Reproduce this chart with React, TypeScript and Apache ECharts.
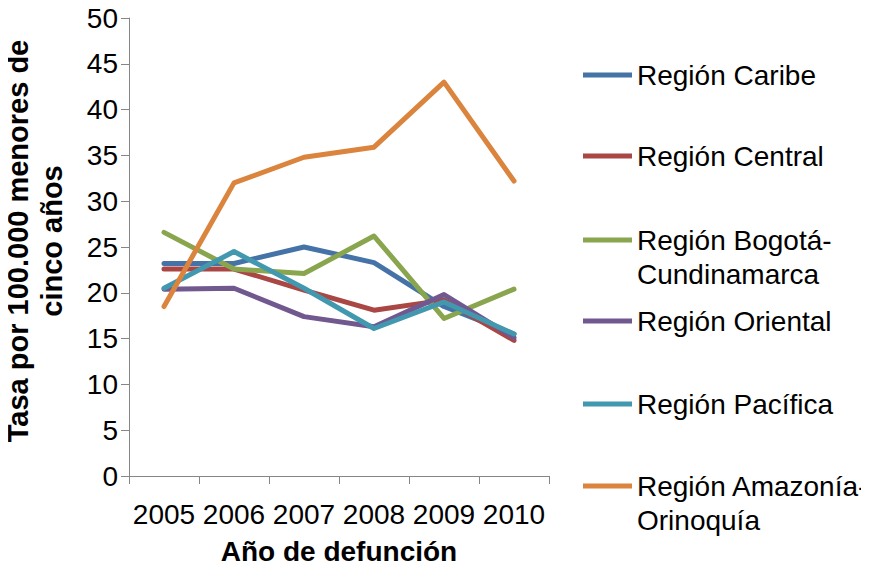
import React, { useEffect, useRef } from "react";
import * as echarts from "echarts";

const years = ["2005", "2006", "2007", "2008", "2009", "2010"];
const caribe = [23.2, 23.2, 25.0, 23.3, 18.5, 15.5];
const central = [22.6, 22.6, 20.3, 18.1, 19.2, 14.8];
const bogota = [26.6, 22.6, 22.1, 26.2, 17.2, 20.4];
const oriental = [20.4, 20.5, 17.4, 16.3, 19.8, 15.1];
const pacifica = [20.5, 24.5, 20.5, 16.1, 19.0, 15.5];
const amazonia = [18.5, 32.0, 34.8, 35.9, 43.0, 32.2];

const seriesNames = [
  "Región Caribe",
  "Región Central",
  "Región Bogotá-\nCundinamarca",
  "Región Oriental",
  "Región Pacífica",
  "Región Amazonía-\nOrinoquía",
];
const seriesData = [caribe, central, bogota, oriental, pacifica, amazonia];
const colors = ["#4572A7", "#AA4643", "#89A54E", "#71588F", "#4198AF", "#DB843D"];
const legendCenters = [75, 156, 240, 321, 404, 486];

const FONT = "'Liberation Sans', Arial, sans-serif";
const AXIS_COLOR = "#868686";

export default function App() {
  const ref = useRef<HTMLDivElement>(null);
  useEffect(() => {
    if (!ref.current) return;
    const chart = echarts.init(ref.current, undefined, { renderer: "svg" });
    const LH = 34;
    const legends = seriesNames.map((name, i) => {
      const multi = name.includes("\n");
      const top = multi ? legendCenters[i] - (LH * 3) / 2 : legendCenters[i] - LH / 2;
      return {
        show: true,
        orient: "vertical",
        left: 583,
        top,
        padding: 0,
        itemWidth: 49,
        itemHeight: 5,
        icon: "rect",
        selectedMode: false,
        formatter: (n: string) => (n.includes("\n") ? " \n" + n : n),
        textStyle: {
          fontFamily: FONT,
          fontSize: 28,
          color: "#000",
          lineHeight: LH,
        },
        data: [name],
      };
    });
    chart.setOption({
      animation: false,
      color: colors,
      grid: { left: 129, right: 320, top: 18, bottom: 93, containLabel: false },
      legend: legends,
      xAxis: {
        type: "category",
        data: years,
        boundaryGap: true,
        name: "Año de defunción",
        nameLocation: "middle",
        nameGap: 61,
        nameTextStyle: { fontFamily: FONT, fontSize: 28, fontWeight: "bold", color: "#000" },
        axisLine: { show: true, lineStyle: { color: AXIS_COLOR, width: 1 } },
        axisTick: { show: true, alignWithLabel: false, length: 8, lineStyle: { color: AXIS_COLOR } },
        axisLabel: { fontFamily: FONT, fontSize: 28, color: "#000", margin: 24, interval: 0 },
        splitLine: { show: false },
      },
      yAxis: {
        type: "value",
        min: 0,
        max: 50,
        interval: 5,
        name: "Tasa por 100.000 menores de\ncinco años",
        nameLocation: "middle",
        nameGap: 60,
        nameRotate: 90,
        nameTextStyle: {
          fontFamily: FONT,
          fontSize: 29,
          fontWeight: "bold",
          color: "#000",
          lineHeight: 34,
          padding: [0, 0, 0, 12],
        },
        axisLine: { show: true, lineStyle: { color: AXIS_COLOR, width: 1 } },
        axisTick: { show: true, inside: false, length: 8, lineStyle: { color: AXIS_COLOR } },
        axisLabel: { fontFamily: FONT, fontSize: 28, color: "#000", margin: 11 },
        splitLine: { show: false },
      },
      series: seriesNames.map((name, i) => ({
        name,
        type: "line",
        data: seriesData[i],
        symbol: "none",
        lineStyle: { width: 5, color: colors[i], cap: "round", join: "round" },
        itemStyle: { color: colors[i] },
      })),
    });
    return () => chart.dispose();
  }, []);
  return <div ref={ref} style={{ width: 869, height: 570, margin: -8 }} />;
}
